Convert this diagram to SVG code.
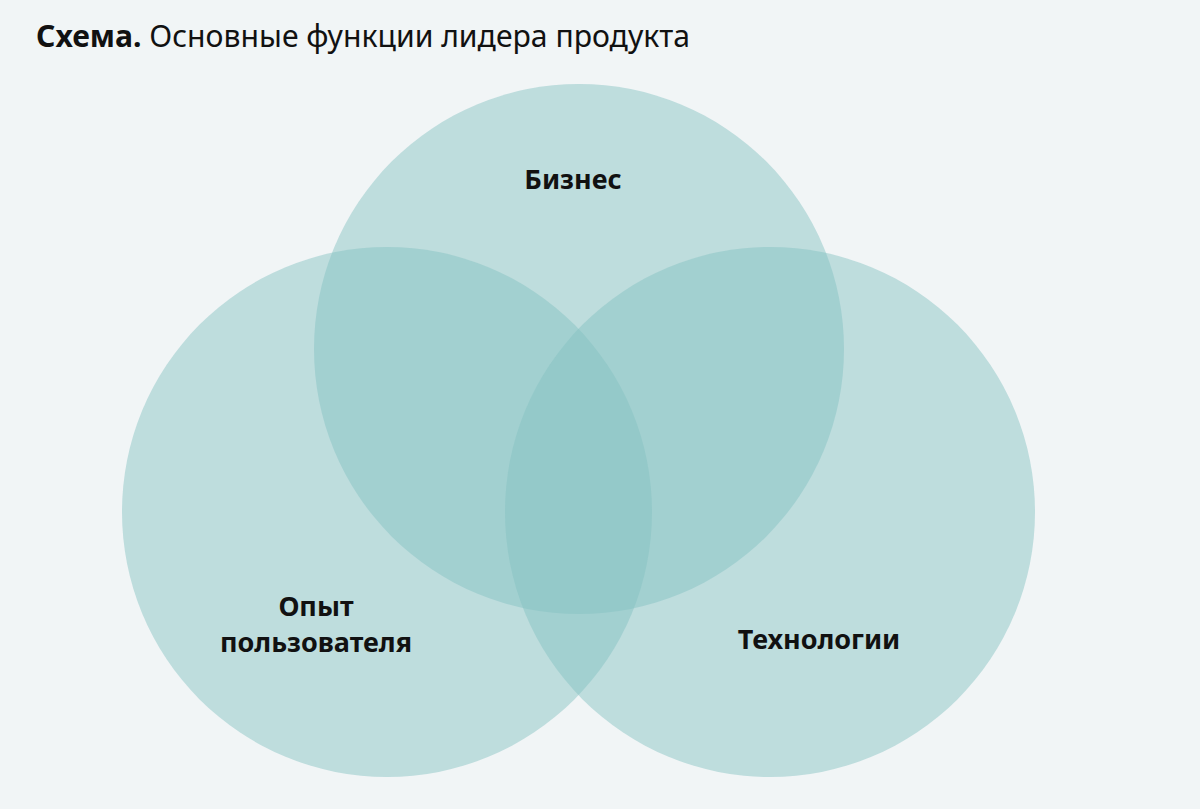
<svg xmlns="http://www.w3.org/2000/svg" width="1200" height="809" viewBox="0 0 1200 809">
<style>
.c{fill:#84c2c2;fill-opacity:0.47}
.t{font-family:"Noto Sans","Open Sans",sans-serif;fill:#111}
.l{font-family:"Noto Sans","Open Sans",sans-serif;font-weight:bold;font-size:27px;fill:#111;text-anchor:middle}
</style>
<rect width="1200" height="809" fill="#f1f5f6"/>
<text class="t" x="36" y="47" font-size="30" textLength="654" lengthAdjust="spacingAndGlyphs"><tspan font-weight="bold">Схема.</tspan> Основные функции лидера продукта</text>
<g id="business"><circle class="c" cx="579" cy="349" r="265"/><text class="l" x="573" y="189">Бизнес</text></g>
<g id="ux"><circle class="c" cx="387" cy="512" r="265"/><text class="l" x="316" y="616">Опыт</text><text class="l" x="316" y="652">пользователя</text></g>
<g id="tech"><circle class="c" cx="770" cy="512" r="265"/><text class="l" x="819" y="649">Технологии</text></g>
<g id="connectors"/>
</svg>
